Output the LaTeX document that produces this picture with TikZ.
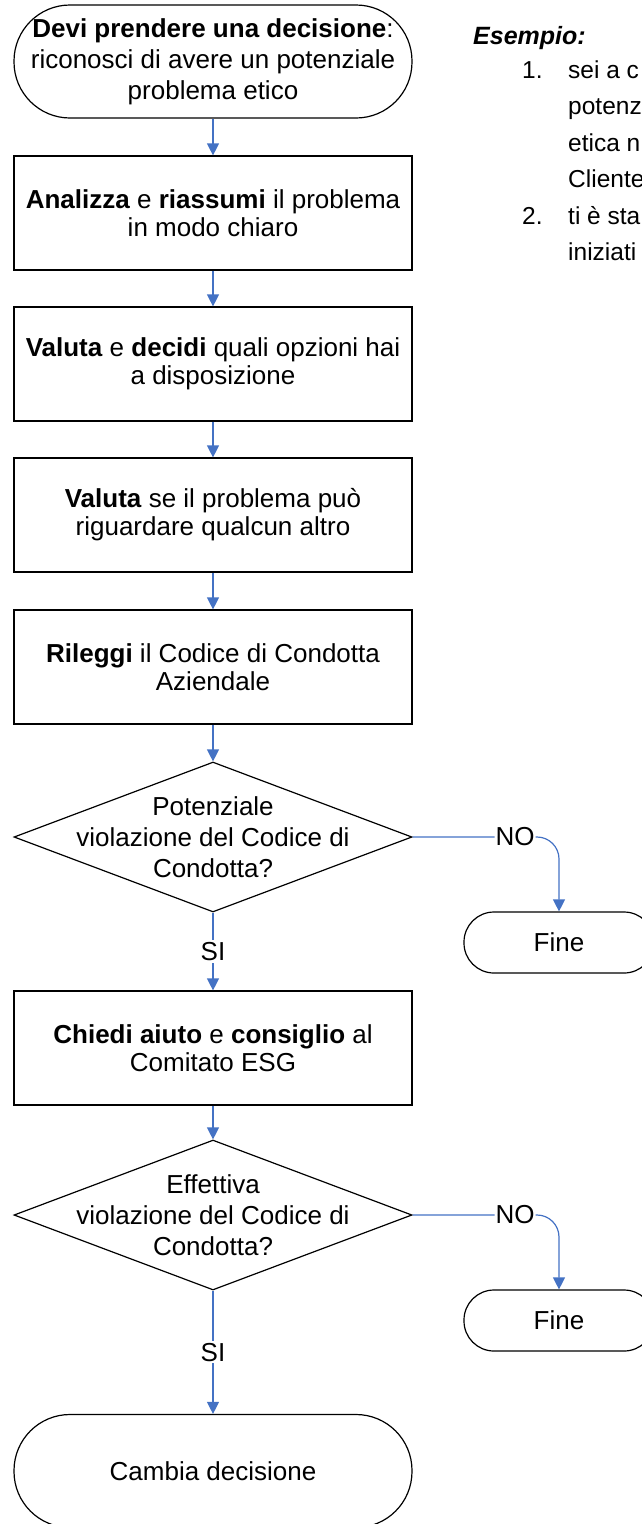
\documentclass[tikz,border=0pt]{standalone}
\usepackage{fontspec}
\setmainfont{Liberation Sans}
\usetikzlibrary{arrows.meta,shapes.geometric,positioning}
\definecolor{arrowblue}{HTML}{4472C4}

\begin{document}
\begin{tikzpicture}[x=1pt,y=-1pt,
                    >={Triangle[width=12pt,length=12pt]},
                font=\fontsize{26}{31}\selectfont,
                term/.style={draw, line width=1.2pt, rounded corners=56pt, minimum width=398pt, minimum height=113pt, align=center, inner sep=2pt},
                fine/.style={draw, line width=1.2pt, rounded corners=30pt, minimum width=190pt, minimum height=61pt},
                stepbox/.style={draw, line width=1.2pt, minimum width=398pt, minimum height=114pt, align=center, font=\fontsize{26}{28}\selectfont},
                decision/.style={draw, diamond, line width=1.2pt, minimum width=398pt, minimum height=150pt, inner sep=0pt},
                flow/.style={->, draw=arrowblue, line width=1.2pt},
                answer/.style={fill=white, inner sep=2pt},
                esempio/.style={anchor=base west, inner sep=0pt, font=\fontsize{24.5}{36}\selectfont}]

                \useasboundingbox (0,0) rectangle (641,1524);

                \draw(213,61.5) node[term] (start) {\textbf{Devi prendere una decisione}:\\riconosci di avere un potenziale\\problema etico};
                \draw(213,213) node[stepbox] (analizza) {\textbf{Analizza} e \textbf{riassumi} il problema\\in modo chiaro};
                \draw(213,364) node[stepbox] (opzioni) {\textbf{Valuta} e \textbf{decidi} quali opzioni hai\\a disposizione};
                \draw(213,515) node[stepbox] (altri) {\textbf{Valuta} se il problema può\\riguardare qualcun altro};
                \draw(213,667) node[stepbox] (codice) {\textbf{Rileggi} il Codice di Condotta\\Aziendale};
                \draw(213,837) node[decision, label={[align=center]center:Potenziale\\violazione del Codice di\\Condotta?}] (potenziale) {};
                \draw(559,942.5) node[fine] (fine1) {Fine};
                \draw(213,1048) node[stepbox] (aiuto) {\textbf{Chiedi aiuto} e \textbf{consiglio} al\\Comitato ESG};
                \draw(213,1215) node[decision, label={[align=center]center:Effettiva\\violazione del Codice di\\Condotta?}] (effettiva) {};
                \draw(559,1320.5) node[fine] (fine2) {Fine};
                \draw(213,1471) node[term] (cambia) {Cambia decisione};

                \draw[flow] (start) -- (analizza);
                \draw[flow] (analizza) -- (opzioni);
                \draw[flow] (opzioni) -- (altri);
                \draw[flow] (altri) -- (codice);
                \draw[flow] (codice) -- (potenziale);
                \draw[flow] (potenziale) -- node[answer] {SI} (aiuto);
                \draw[flow, rounded corners=22pt] (potenziale.east) -| node[answer, pos=0.35, inner sep=1pt] {NO} (fine1.north);
                \draw[flow] (aiuto) -- (effettiva);
                \draw[flow] (effettiva) -- node[answer] {SI} (cambia);
                \draw[flow, rounded corners=22pt] (effettiva.east) -| node[answer, pos=0.35, inner sep=1pt] {NO} (fine2.north);

                % esempio a destra
                \draw(473,44) node[esempio, font=\fontsize{25}{30}\selectfont\bfseries\itshape] (titolo) {Esempio:};
                \draw(522,78) node[esempio] (num1) {1.};
                \foreach \riga [count=\i] in {sei a c, potenz, etica n, Cliente}
                    \draw(568,{78+(\i-1)*36.5}) node[esempio] (uno\i) {\riga};
                \draw(522,224) node[esempio] (num2) {2.};
                \foreach \riga [count=\i] in {ti è sta, iniziati}
                    \draw(568,{224+(\i-1)*36.5}) node[esempio] (due\i) {\riga};

            \end{tikzpicture}
\end{document}
